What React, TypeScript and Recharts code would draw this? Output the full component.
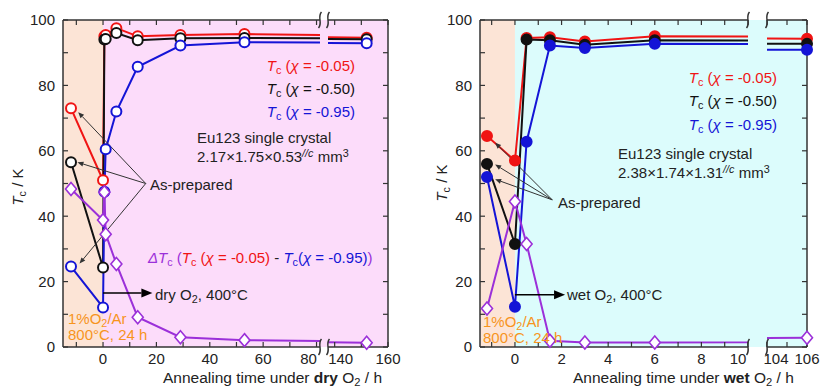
import React from "react";
import { LineChart, Line, XAxis, YAxis, ReferenceArea, ReferenceLine } from "recharts";

const FONT = '"Liberation Sans", Arial, Helvetica, sans-serif';
const RED = "#f01414";
const BLACK = "#111111";
const BLUE = "#1414d6";
const PURPLE = "#9b30d9";
const ORANGE = "#f7941d";
const AXIS = "#333333";
const TXT = "#222222";
const PEACH = "#fce4d6";
const PINK = "#fcdcfa";
const CYAN = "#dcfcfc";

// dry O2 anneal (left panel); -12 = as-prepared, 0 = after 1%O2/Ar
const dryHours = [-12, 0, 0.5, 1, 5, 13, 29, 53, 152];
const dryTcRed = [73, 51, 95, 95.4, 97.5, 95, 95.4, 95.7, 94.6];
const dryTcBlack = [56.5, 24.3, 94, 94.2, 96, 93.8, 94.4, 94.5, 94.1];
const dryTcBlue = [24.6, 12.1, 47.5, 60.5, 72, 85.7, 92.2, 93.2, 92.9];
const dryDelta = [48.3, 38.8, 47.3, 34.5, 25.4, 9.1, 3.0, 2.1, 1.3];

// wet O2 anneal (right panel)
const wetHours = [-1.2, 0, 0.5, 1.5, 3, 6, 106];
const wetTcRed = [64.5, 57, 94.5, 94.7, 93.4, 95, 94.3];
const wetTcBlack = [56, 31.5, 94, 93.8, 92.4, 93.8, 92.7];
const wetTcBlue = [52, 12.3, 62.8, 92.2, 91.4, 92.7, 90.9];
const wetDelta = [11.8, 44.5, 31.5, 1.9, 1.4, 1.4, 2.8];

const tcTicks = [0, 10, 20, 30, 40, 50, 60, 70, 80, 90, 100];
const dryTicksLow = [-10, 0, 10, 20, 30, 40, 50, 60, 70, 80];
const dryTicksHigh = [140, 150, 160];
const wetTicksLow = [-1, 0, 1, 2, 3, 4, 5, 6, 7, 8, 9, 10];
const wetTicksHigh = [104, 105, 106];

// annotation arrows in data units: x1, y1, x2, y2
const dryPrepArrows = [
  [16, 50, -9.3, 71.8],
  [16, 50, -9.6, 56.5],
  [16, 50, -8.8, 25.5],
];
const dryGasArrow = [0, 16.5, 18.5, 16.5];
const wetPrepArrows = [
  [1.6, 45, -0.85, 62.5],
  [1.6, 45, -0.85, 55.8],
  [1.6, 45, -0.85, 51.3],
];
const wetGasArrow = [0, 16, 2.15, 16];

type Row = { t: number; red: number; black: number; blue: number; delta: number };

const makeRows = (t: number[], r: number[], k: number[], b: number[], d: number[]): Row[] =>
  t.map((x, i) => ({ t: x, red: r[i], black: k[i], blue: b[i], delta: d[i] }));

const dryRows = makeRows(dryHours, dryTcRed, dryTcBlack, dryTcBlue, dryDelta);
const wetRows = makeRows(wetHours, wetTcRed, wetTcBlack, wetTcBlue, wetDelta);

const circleDot = (color: string, hollow: boolean) => (p: any) => (
  <circle
    key={p.key ?? p.index}
    cx={p.cx}
    cy={p.cy}
    r={5}
    fill={hollow ? "#fff" : color}
    stroke={color}
    strokeWidth={2}
  />
);

const diamondDot = (color: string) => (p: any) => (
  <path
    key={p.key ?? p.index}
    d={`M${p.cx},${p.cy - 6.5}L${p.cx + 5.5},${p.cy}L${p.cx},${p.cy + 6.5}L${p.cx - 5.5},${p.cy}Z`}
    fill="#fff"
    stroke={color}
    strokeWidth={1.6}
  />
);

const arrowShape = (color: string, w: number, len: number, half: number) => (p: any) => {
  const x1 = Number(p.x1), y1 = Number(p.y1), x2 = Number(p.x2), y2 = Number(p.y2);
  const a = Math.atan2(y2 - y1, x2 - x1);
  const bx = x2 - len * Math.cos(a);
  const by = y2 - len * Math.sin(a);
  const px = -Math.sin(a) * half;
  const py = Math.cos(a) * half;
  return (
    <g>
      <line x1={x1} y1={y1} x2={bx} y2={by} stroke={color} strokeWidth={w} />
      <polygon points={`${x2},${y2} ${bx + px},${by + py} ${bx - px},${by - py}`} fill={color} />
    </g>
  );
};

const xTick = (label: (v: number) => string, shift: Record<number, number>) => (p: any) => {
  const v = p.payload.value;
  return (
    <text
      x={p.x + (shift[v] ?? 0)}
      y={p.y}
      dy="0.71em"
      textAnchor="middle"
      fontSize={15}
      fontFamily={FONT}
      fill={TXT}
    >
      {label(v)}
    </text>
  );
};

type SegProps = {
  rows: Row[];
  left: number;
  width: number;
  margin: { top: number; right: number; bottom: number; left: number };
  domain: [number, number];
  ticks: number[];
  label: (v: number) => string;
  shift: Record<number, number>;
  side: "left" | "right";
  bands: { x1: number; x2: number; fill: string }[];
  hollow: boolean;
  arrows?: { seg: number[]; thin: boolean }[];
};

function Segment(p: SegProps) {
  const inside = p.rows.filter((r) => r.t >= p.domain[0] && r.t <= p.domain[1]);
  const series: [keyof Row, string][] = [
    ["red", RED],
    ["black", BLACK],
    ["blue", BLUE],
    ["delta", PURPLE],
  ];
  const axisLine = { stroke: AXIS, strokeWidth: 1.5 };
  const tickLine = { stroke: AXIS, strokeWidth: 1.2 };
  return (
    <div style={{ position: "absolute", left: p.left, top: 0 }}>
      <LineChart width={p.width} height={389} data={p.rows} margin={p.margin}>
        <XAxis
          xAxisId="main"
          type="number"
          dataKey="t"
          domain={p.domain}
          ticks={p.ticks}
          interval={0}
          height={30}
          tickSize={-5}
          tickMargin={11}
          axisLine={axisLine}
          tickLine={tickLine}
          tick={xTick(p.label, p.shift)}
        />
        <XAxis
          xAxisId="clip"
          type="number"
          dataKey="t"
          domain={p.domain}
          ticks={p.ticks}
          allowDataOverflow
          height={0}
          hide
        />
        <XAxis
          xAxisId="top"
          orientation="top"
          type="number"
          dataKey="t"
          domain={p.domain}
          ticks={p.ticks}
          allowDataOverflow
          interval={0}
          height={1}
          tickSize={-5}
          axisLine={axisLine}
          tickLine={tickLine}
          tickFormatter={() => ""}
        />
        <YAxis
          yAxisId="l"
          type="number"
          domain={[0, 100]}
          ticks={tcTicks}
          interval={0}
          width={40}
          hide={p.side !== "left"}
          tickSize={-5}
          tickMargin={13}
          axisLine={axisLine}
          tickLine={tickLine}
          tick={{ fontSize: 15, fontFamily: FONT, fill: TXT }}
          tickFormatter={(v: number) => (v % 20 === 0 ? String(v) : "")}
        />
        <YAxis
          yAxisId="r"
          orientation="right"
          type="number"
          domain={[0, 100]}
          ticks={tcTicks}
          allowDataOverflow
          interval={0}
          width={1}
          hide={p.side !== "right"}
          tickSize={-5}
          axisLine={axisLine}
          tickLine={tickLine}
          tickFormatter={() => ""}
        />
        {p.bands.map((b, i) => (
          <ReferenceArea
            key={"band" + i}
            xAxisId="main"
            yAxisId="l"
            x1={b.x1}
            x2={b.x2}
            y1={0}
            y2={100}
            fill={b.fill}
            fillOpacity={1}
            stroke="none"
            ifOverflow="hidden"
          />
        ))}
        {series.flatMap(([key, color]) => [
          <Line
            key={key + "-line"}
            xAxisId="clip"
            yAxisId="l"
            type="linear"
            dataKey={key}
            stroke={color}
            strokeWidth={2}
            dot={false}
            activeDot={false}
            isAnimationActive={false}
          />,
          <Line
            key={key + "-mark"}
            xAxisId="main"
            yAxisId="l"
            type="linear"
            data={inside}
            dataKey={key}
            stroke="none"
            dot={key === "delta" ? diamondDot(color) : circleDot(color, p.hollow)}
            activeDot={false}
            isAnimationActive={false}
          />,
        ])}
        {(p.arrows ?? []).map((a, i) => (
          <ReferenceLine
            key={"arrow" + i}
            xAxisId="main"
            yAxisId="l"
            segment={[
              { x: a.seg[0], y: a.seg[1] },
              { x: a.seg[2], y: a.seg[3] },
            ]}
            ifOverflow="visible"
            shape={a.thin ? arrowShape("#333", 1, 6, 2.5) : arrowShape("#000", 1.6, 11, 4.5)}
          />
        ))}
      </LineChart>
    </div>
  );
}

const Sub = ({ children }: { children: React.ReactNode }) => (
  <span style={{ fontSize: "0.72em", position: "relative", top: "0.3em" }}>{children}</span>
);
const Sup = ({ children }: { children: React.ReactNode }) => (
  <span style={{ fontSize: "0.72em", position: "relative", top: "-0.45em" }}>{children}</span>
);
const Tc = () => (
  <>
    <i>T</i>
    <Sub>c</Sub>
  </>
);

function Note({
  x,
  y,
  anchor = "start",
  color = TXT,
  size = 15,
  children,
}: {
  x: number;
  y: number;
  anchor?: "start" | "end";
  color?: string;
  size?: number;
  children: React.ReactNode;
}) {
  return (
    <div
      style={{
        position: "absolute",
        left: x,
        top: y,
        transform: `translate(${anchor === "end" ? "-100%" : "0"}, -50%)`,
        fontFamily: FONT,
        fontSize: size,
        color,
        whiteSpace: "nowrap",
        lineHeight: 1,
      }}
    >
      {children}
    </div>
  );
}

function YTitle({ x, y }: { x: number; y: number }) {
  return (
    <div
      style={{
        position: "absolute",
        left: x,
        top: y,
        transform: "translate(-50%, -50%) rotate(-90deg)",
        fontFamily: FONT,
        fontSize: 15,
        color: TXT,
        whiteSpace: "nowrap",
        lineHeight: 1,
      }}
    >
      <Tc /> / K
    </div>
  );
}

const breakPath = (x: number, y: number) =>
  `M${x + 1.5},${y - 8} C${x - 3},${y - 3} ${x + 3},${y + 3} ${x - 1.5},${y + 8}`;

const breaks = [
  [320, 20], [328, 20], [320, 347], [328, 347],
  [748, 20], [767, 20], [748, 347], [767, 347],
];

export default function App() {
  const dryLabel = (v: number) => (v >= 0 && v % 20 === 0 ? String(v) : "");
  const wetLabel = (v: number) => (v >= 0 && v % 2 === 0 ? String(v) : "");
  return (
    <div
      style={{
        position: "absolute",
        left: 0,
        top: 0,
        width: 823,
        height: 389,
        background: "#fff",
        overflow: "hidden",
      }}
    >
      <div style={{ position: "absolute", left: 320, top: 20, width: 8, height: 327, background: PINK }} />
      <div style={{ position: "absolute", left: 748, top: 20, width: 19, height: 327, background: CYAN }} />

      <Segment
        rows={dryRows}
        left={0}
        width={330}
        margin={{ top: 19, right: 10, bottom: 12, left: 23 }}
        domain={[-15, 81.3]}
        ticks={dryTicksLow}
        label={dryLabel}
        shift={{ 80: -8 }}
        side="left"
        bands={[
          { x1: -15, x2: 0, fill: PEACH },
          { x1: 0, x2: 81.3, fill: PINK },
        ]}
        hollow
        arrows={[
          ...dryPrepArrows.map((seg) => ({ seg, thin: true })),
          { seg: dryGasArrow, thin: false },
        ]}
      />
      <Segment
        rows={dryRows}
        left={318}
        width={95}
        margin={{ top: 19, right: 24, bottom: 12, left: 10 }}
        domain={[137.5, 160]}
        ticks={dryTicksHigh}
        label={(v) => (v % 20 === 0 ? String(v) : "")}
        shift={{ 140: 6 }}
        side="right"
        bands={[{ x1: 137.5, x2: 160, fill: PINK }]}
        hollow
      />
      <Segment
        rows={wetRows}
        left={440}
        width={318}
        margin={{ top: 19, right: 10, bottom: 12, left: 0 }}
        domain={[-1.5, 10]}
        ticks={wetTicksLow}
        label={wetLabel}
        shift={{ 10: -10 }}
        side="left"
        bands={[
          { x1: -1.5, x2: 0, fill: PEACH },
          { x1: 0, x2: 10, fill: CYAN },
        ]}
        hollow={false}
        arrows={[
          ...wetPrepArrows.map((seg) => ({ seg, thin: true })),
          { seg: wetGasArrow, thin: false },
        ]}
      />
      <Segment
        rows={wetRows}
        left={757}
        width={66}
        margin={{ top: 19, right: 15, bottom: 12, left: 10 }}
        domain={[104, 106]}
        ticks={wetTicksHigh}
        label={(v) => (v % 2 === 0 ? String(v) : "")}
        shift={{ 104: 9 }}
        side="right"
        bands={[{ x1: 104, x2: 106, fill: CYAN }]}
        hollow={false}
      />

      <svg width={823} height={389} style={{ position: "absolute", left: 0, top: 0, pointerEvents: "none" }}>
        {breaks.map(([x, y], i) => (
          <path key={i} d={breakPath(x, y)} fill="none" stroke={AXIS} strokeWidth={1.5} />
        ))}
      </svg>

      {/* left panel text */}
      <Note x={355} y={65} anchor="end" color={RED}>
        <Tc /> (<i>χ</i> = -0.05)
      </Note>
      <Note x={355} y={88} anchor="end" color={BLACK}>
        <Tc /> (<i>χ</i> = -0.50)
      </Note>
      <Note x={355} y={111} anchor="end" color={BLUE}>
        <Tc /> (<i>χ</i> = -0.95)
      </Note>
      <Note x={197} y={137}>Eu123 single crystal</Note>
      <Note x={197} y={156}>
        2.17×1.75×0.53<Sup><i>//c</i></Sup> mm<Sup>3</Sup>
      </Note>
      <Note x={150} y={184}>As-prepared</Note>
      <Note x={148} y={257}>
        <span style={{ color: PURPLE }}>
          <i>Δ</i>
          <Tc /> (
        </span>
        <span style={{ color: RED }}>
          <Tc /> (<i>χ</i> = -0.05)
        </span>
        <span style={{ color: TXT }}> - </span>
        <span style={{ color: BLUE }}>
          <Tc />(<i>χ</i> = -0.95)
        </span>
        <span style={{ color: PURPLE }}>)</span>
      </Note>
      <Note x={155} y={294}>
        dry O<Sub>2</Sub>, 400°C
      </Note>
      <Note x={68} y={318} color={ORANGE}>
        1%O<Sub>2</Sub>/Ar
      </Note>
      <Note x={68} y={334} color={ORANGE}>
        800°C, 24 h
      </Note>
      <YTitle x={17} y={187} />
      <Note x={163} y={378} size={15.5}>
        Annealing time under <b>dry</b> O<Sub>2</Sub> / h
      </Note>

      {/* right panel text */}
      <Note x={777} y={77} anchor="end" color={RED}>
        <Tc /> (<i>χ</i> = -0.05)
      </Note>
      <Note x={777} y={100} anchor="end" color={BLACK}>
        <Tc /> (<i>χ</i> = -0.50)
      </Note>
      <Note x={777} y={124} anchor="end" color={BLUE}>
        <Tc /> (<i>χ</i> = -0.95)
      </Note>
      <Note x={618} y={153}>Eu123 single crystal</Note>
      <Note x={618} y={172}>
        2.38×1.74×1.31<Sup><i>//c</i></Sup> mm<Sup>3</Sup>
      </Note>
      <Note x={558} y={202}>As-prepared</Note>
      <Note x={567} y={294}>
        wet O<Sub>2</Sub>, 400°C
      </Note>
      <Note x={483} y={321} color={ORANGE}>
        1%O<Sub>2</Sub>/Ar
      </Note>
      <Note x={483} y={337} color={ORANGE}>
        800°C, 24 h
      </Note>
      <YTitle x={441} y={183} />
      <Note x={573} y={378} size={15.5}>
        Annealing time under <b>wet</b> O<Sub>2</Sub> / h
      </Note>
    </div>
  );
}
